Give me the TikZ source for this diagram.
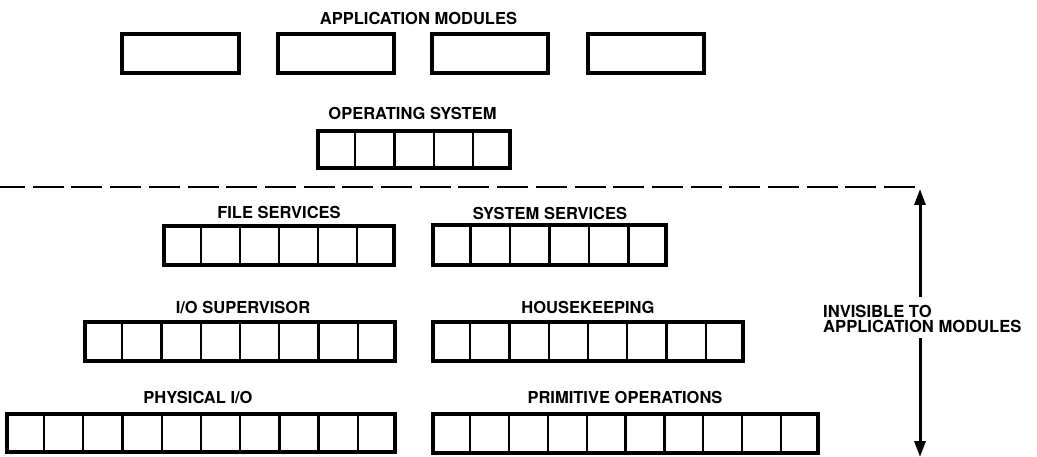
\documentclass[tikz,border=0pt]{standalone}
\usepackage{fontspec}
\setmainfont{TeX Gyre Heros}
\usetikzlibrary{arrows.meta,calc}
\newcommand\cellrow[6]{% name, x1, x2, y1, y2, cells
  \node[modbox, minimum width={(#3-#2-4)*1pt}, minimum height={(#5-#4-4)*1pt}]
    (#1) at ({(#2+#3)/2},{(#4+#5)/2}) {};
  \pgfmathtruncatemacro\lastdiv{#6-1}
  \foreach \i in {1,...,\lastdiv}{
    \draw[divider] ($(#1.north west)!{\i/#6}!(#1.north east)$) -- ($(#1.south west)!{\i/#6}!(#1.south east)$);
  }
}
\begin{document}
\begin{tikzpicture}[x=1pt,y=-1pt,
  modbox/.style={draw=black, line width=4pt, inner sep=0pt, rectangle},
  divider/.style={draw=black, line width=2.2pt},
  lbl/.style={font=\bfseries\fontsize{16.5}{16}\selectfont, inner sep=0pt, anchor=base},
  sidelbl/.style={font=\bfseries\fontsize{16.6}{16}\selectfont, inner sep=0pt, anchor=base west},
  dashline/.style={line width=2pt, dash pattern=on 31pt off 7.7pt, dash phase=6pt},
  arrowline/.style={line width=3pt, -{Triangle[length=16pt,width=11pt]}}
]
\useasboundingbox[fill=white] (0,0) rectangle (1037,457);

% application modules
\node[lbl] (amlbl) at (418.5,25) {APPLICATION MODULES};
\node[modbox, minimum width=117pt, minimum height=39pt] (am1) at (180.5,53.5) {};
\node[modbox, minimum width=116pt, minimum height=39pt] (am2) at (336,53.5) {};
\node[modbox, minimum width=116pt, minimum height=39pt] (am3) at (490,53.5) {};
\node[modbox, minimum width=116pt, minimum height=39pt] (am4) at (646,53.5) {};

% operating system
\node[lbl] (oslbl) at (412.5,120) {OPERATING SYSTEM};
\cellrow{os}{316}{512}{129}{170}{5}

% dashed boundary and arrow
\coordinate (dl) at (0,187);
\coordinate (dr) at (921,187);
\coordinate (tip) at (920,189);
\coordinate (bot) at (920,457);
\coordinate (gaptop) at (920,297);
\coordinate (gapbot) at (920,338);
\draw[dashline] (dl) -- (dr);
\draw[arrowline] (gaptop) -- (tip);
\draw[arrowline] (gapbot) -- (bot);
\node[sidelbl] (inv1) at (823,317) {INVISIBLE TO};
\node[sidelbl] (inv2) at (823,333) {APPLICATION MODULES};

% file services / system services
\node[lbl] (fslbl) at (279,219) {FILE SERVICES};
\cellrow{fs}{162}{396}{224}{267}{6}
\node[lbl] (sslbl) at (550,220) {SYSTEM SERVICES};
\cellrow{ss}{431}{668}{223}{267}{6}

% I/O supervisor / housekeeping
\node[lbl] (ioslbl) at (243,314) {I/O SUPERVISOR};
\cellrow{ios}{83}{397}{320}{363}{8}
\node[lbl] (hklbl) at (588,314) {HOUSEKEEPING};
\cellrow{hk}{431}{745}{320}{363}{8}

% physical I/O / primitive operations
\node[lbl] (piolbl) at (198,403) {PHYSICAL I/O};
\cellrow{pio}{5}{397}{412}{454}{10}
\node[lbl] (polbl) at (625,403) {PRIMITIVE OPERATIONS};
\cellrow{po}{431}{820}{412}{455}{10}
\end{tikzpicture}
\end{document}
